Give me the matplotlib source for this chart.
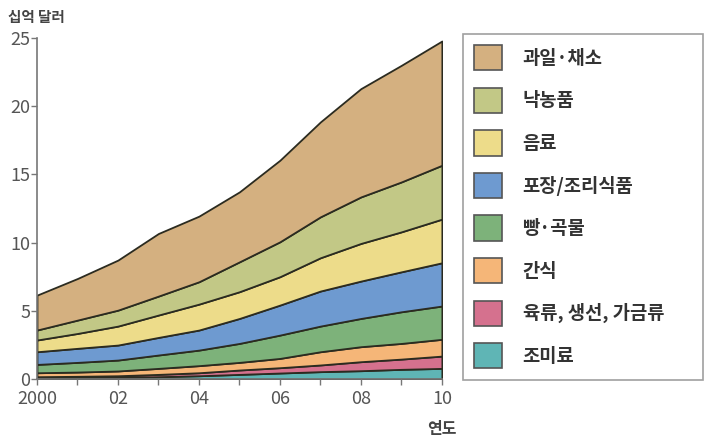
import numpy as np
import matplotlib.pyplot as plt
from matplotlib.patches import Patch

plt.rcParams['font.family'] = ['Noto Sans CJK KR', 'DejaVu Sans']

# 연도별 시장 규모 (십억 달러)
years = np.arange(2000, 2011)
categories = ['과일·채소', '낙농품', '음료', '포장/조리식품', '빵·곡물', '간식',
              '육류, 생선, 가금류', '조미료']

fruit_veg = [2.56, 3.05, 3.67, 4.59, 4.81, 5.13, 5.98, 6.96, 7.94, 8.55, 9.11]
dairy = [0.73, 0.98, 1.17, 1.39, 1.64, 2.19, 2.56, 3.00, 3.41, 3.66, 3.95]
beverages = [0.86, 1.09, 1.39, 1.64, 1.90, 1.96, 2.08, 2.44, 2.76, 2.93, 3.20]
packaged = [0.93, 1.03, 1.10, 1.29, 1.47, 1.83, 2.20, 2.57, 2.74, 2.93, 3.17]
bread_grain = [0.61, 0.71, 0.80, 0.98, 1.14, 1.39, 1.71, 1.88, 2.07, 2.32, 2.44]
snacks = [0.29, 0.31, 0.35, 0.44, 0.52, 0.56, 0.68, 0.97, 1.10, 1.15, 1.23]
meat_fish = [0.10, 0.10, 0.12, 0.17, 0.22, 0.32, 0.39, 0.49, 0.66, 0.75, 0.90]
condiments = [0.07, 0.10, 0.12, 0.17, 0.24, 0.34, 0.44, 0.54, 0.61, 0.71, 0.78]

colors = ['#D4B080', '#C2C886', '#EDDC8A', '#6E9AD0', '#7DB27A', '#F5B678',
          '#D5718E', '#5FB5B5']

# 아래층부터 쌓기
layers = [condiments, meat_fish, snacks, bread_grain, packaged, beverages, dairy, fruit_veg]
layer_colors = colors[::-1]

fig = plt.figure(figsize=(7.07, 4.40), dpi=100)
ax = fig.add_axes([0.0523, 0.1386, 0.5727, 0.775])

ax.stackplot(years, layers, colors=layer_colors, edgecolor='#2b2b20', linewidth=1.3)

ax.set_xlim(2000, 2010)
ax.set_ylim(0, 25)
ax.set_yticks([0, 5, 10, 15, 20, 25])
ax.set_xticks(years)
ax.set_xticklabels(['2000' if y == 2000 else ('%02d' % (y % 100) if y % 2 == 0 else '')
                    for y in years])

for s in ['top', 'right']:
    ax.spines[s].set_visible(False)
for s in ['left', 'bottom']:
    ax.spines[s].set_color('#777777')
    ax.spines[s].set_linewidth(1.2)

ax.tick_params(axis='both', colors='#777777', labelcolor='#555555', labelsize=13,
               length=4, width=1)
ax.tick_params(axis='y', pad=1)
ax.tick_params(axis='x', pad=4)

fig.text(0.012, 0.962, '십억 달러', fontsize=10.5, fontweight='bold', color='#444444',
         va='center', ha='left')
fig.text(0.625, 0.025, '연도', fontsize=11.5, fontweight='bold', color='#444444',
         va='center', ha='center')

# 범례 (오른쪽 박스)
handles = [Patch(facecolor=c, edgecolor='#555555', linewidth=1.2) for c in colors]
leg = fig.legend(handles, categories, loc='upper left',
                 bbox_to_anchor=(0.655, 0.0, 0.339, 0.923), mode='expand',
                 frameon=True, fancybox=False, shadow=False, fontsize=13.5,
                 handlelength=1.45, handleheight=1.7, labelspacing=0.92,
                 handletextpad=1.12, borderpad=0.6, borderaxespad=0)
leg.get_frame().set_edgecolor('#888888')
leg.get_frame().set_linewidth(1.2)
for t in leg.get_texts():
    t.set_fontweight('bold')
    t.set_color('#333333')

fig.savefig('out.png', dpi=100)
